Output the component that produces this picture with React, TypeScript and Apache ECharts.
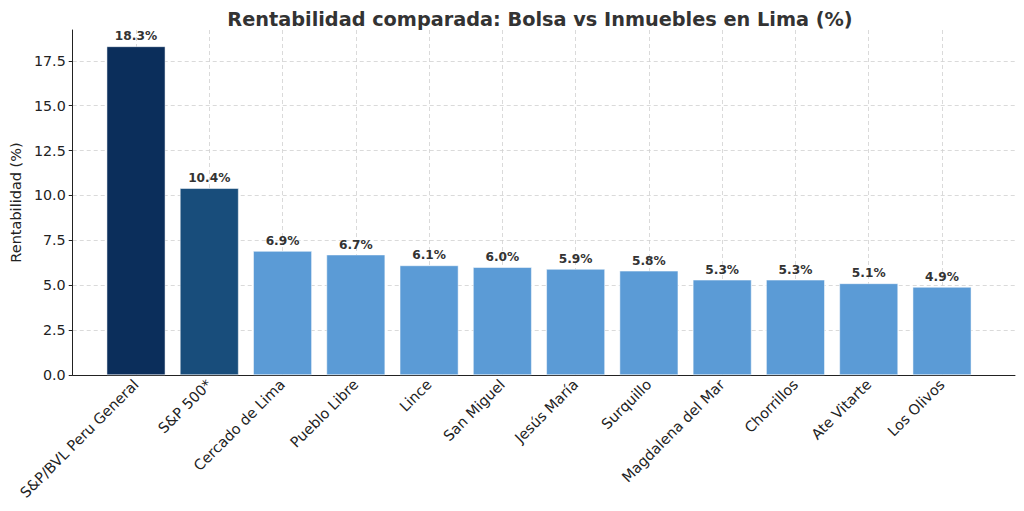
import React, { useEffect, useRef } from "react";
import * as echarts from "echarts";

const categories = [
  "S&P/BVL Peru General",
  "S&P 500*",
  "Cercado de Lima",
  "Pueblo Libre",
  "Lince",
  "San Miguel",
  "Jesús María",
  "Surquillo",
  "Magdalena del Mar",
  "Chorrillos",
  "Ate Vitarte",
  "Los Olivos",
];
const values = [18.3, 10.4, 6.9, 6.7, 6.1, 6.0, 5.9, 5.8, 5.3, 5.3, 5.1, 4.9];
const barColors = [
  "#0b2e5b",
  "#184d7b",
  "#5b9bd6",
  "#5b9bd6",
  "#5b9bd6",
  "#5b9bd6",
  "#5b9bd6",
  "#5b9bd6",
  "#5b9bd6",
  "#5b9bd6",
  "#5b9bd6",
  "#5b9bd6",
];
const yMax = 19.215;

const FONT = "DejaVu Sans";

export default function App() {
  const ref = useRef<HTMLDivElement>(null);
  useEffect(() => {
    document.body.style.margin = "0";
    const chart = echarts.init(ref.current!, null, { renderer: "svg" });
    chart.setOption({
      animation: false,
      backgroundColor: "#ffffff",
      textStyle: { fontFamily: FONT },
      title: {
        text: "Rentabilidad comparada: Bolsa vs Inmuebles en Lima (%)",
        left: 535,
        top: 5,
        textAlign: "center",
        textStyle: { fontFamily: FONT, fontSize: 19.3, fontWeight: "bold", color: "#333333" },
      },
      grid: [
        { left: 64, right: 9, top: 30, bottom: 136 },
        { left: 136, right: 82, top: 30, bottom: 136 },
      ],
      xAxis: [
        {
          type: "value",
          gridIndex: 0,
          min: 0,
          max: 1,
          axisLine: { show: true, lineStyle: { color: "#222222", width: 1 } },
          axisTick: { show: false },
          axisLabel: { show: false },
          splitLine: { show: false },
        },
        {
          type: "category",
          gridIndex: 1,
          data: categories,
          boundaryGap: false,
          axisLine: { show: false },
          axisTick: { show: false },
          axisLabel: {
            rotate: 45,
            interval: 0,
            margin: 7,
            fontFamily: FONT,
            fontSize: 14.5,
            color: "#222222",
          },
          splitLine: {
            show: true,
            interval: 0,
            lineStyle: { color: "#d0d0d0", type: [4, 3], width: 0.8 },
          },
        },
      ],
      yAxis: [
        {
          type: "value",
          gridIndex: 0,
          min: 0,
          max: yMax,
          interval: 2.5,
          name: "Rentabilidad (%)",
          nameLocation: "middle",
          nameGap: 44,
          nameTextStyle: { fontFamily: FONT, fontSize: 14.5, color: "#222222" },
          axisLine: { show: true, lineStyle: { color: "#222222", width: 1 } },
          axisTick: { show: true, length: 4, lineStyle: { color: "#222222" } },
          axisLabel: {
            formatter: (v: number) => v.toFixed(1),
            fontFamily: FONT,
            fontSize: 14.3,
            color: "#222222",
            margin: 7,
            showMaxLabel: false,
          },
          splitLine: {
            show: true,
            showMaxLine: false,
            lineStyle: { color: "#d0d0d0", type: [4, 3], width: 0.8 },
          },
        },
        {
          type: "value",
          gridIndex: 1,
          min: 0,
          max: yMax,
          interval: 2.5,
          show: false,
          splitLine: { show: false },
        },
      ],
      series: [
        {
          type: "bar",
          xAxisIndex: 1,
          yAxisIndex: 1,
          barWidth: 58.6,
          clip: false,
          data: values.map((v, i) => ({
            value: v,
            itemStyle: { color: barColors[i], borderColor: "#ffffff", borderWidth: 0.5 },
          })),
          label: {
            show: true,
            position: "top",
            distance: 4,
            formatter: (p: any) => p.value.toFixed(1) + "%",
            fontFamily: FONT,
            fontSize: 12.2,
            fontWeight: "bold",
            color: "#333333",
          },
        },
      ],
    });
    return () => chart.dispose();
  }, []);
  return <div ref={ref} style={{ width: 1024, height: 511 }} />;
}
